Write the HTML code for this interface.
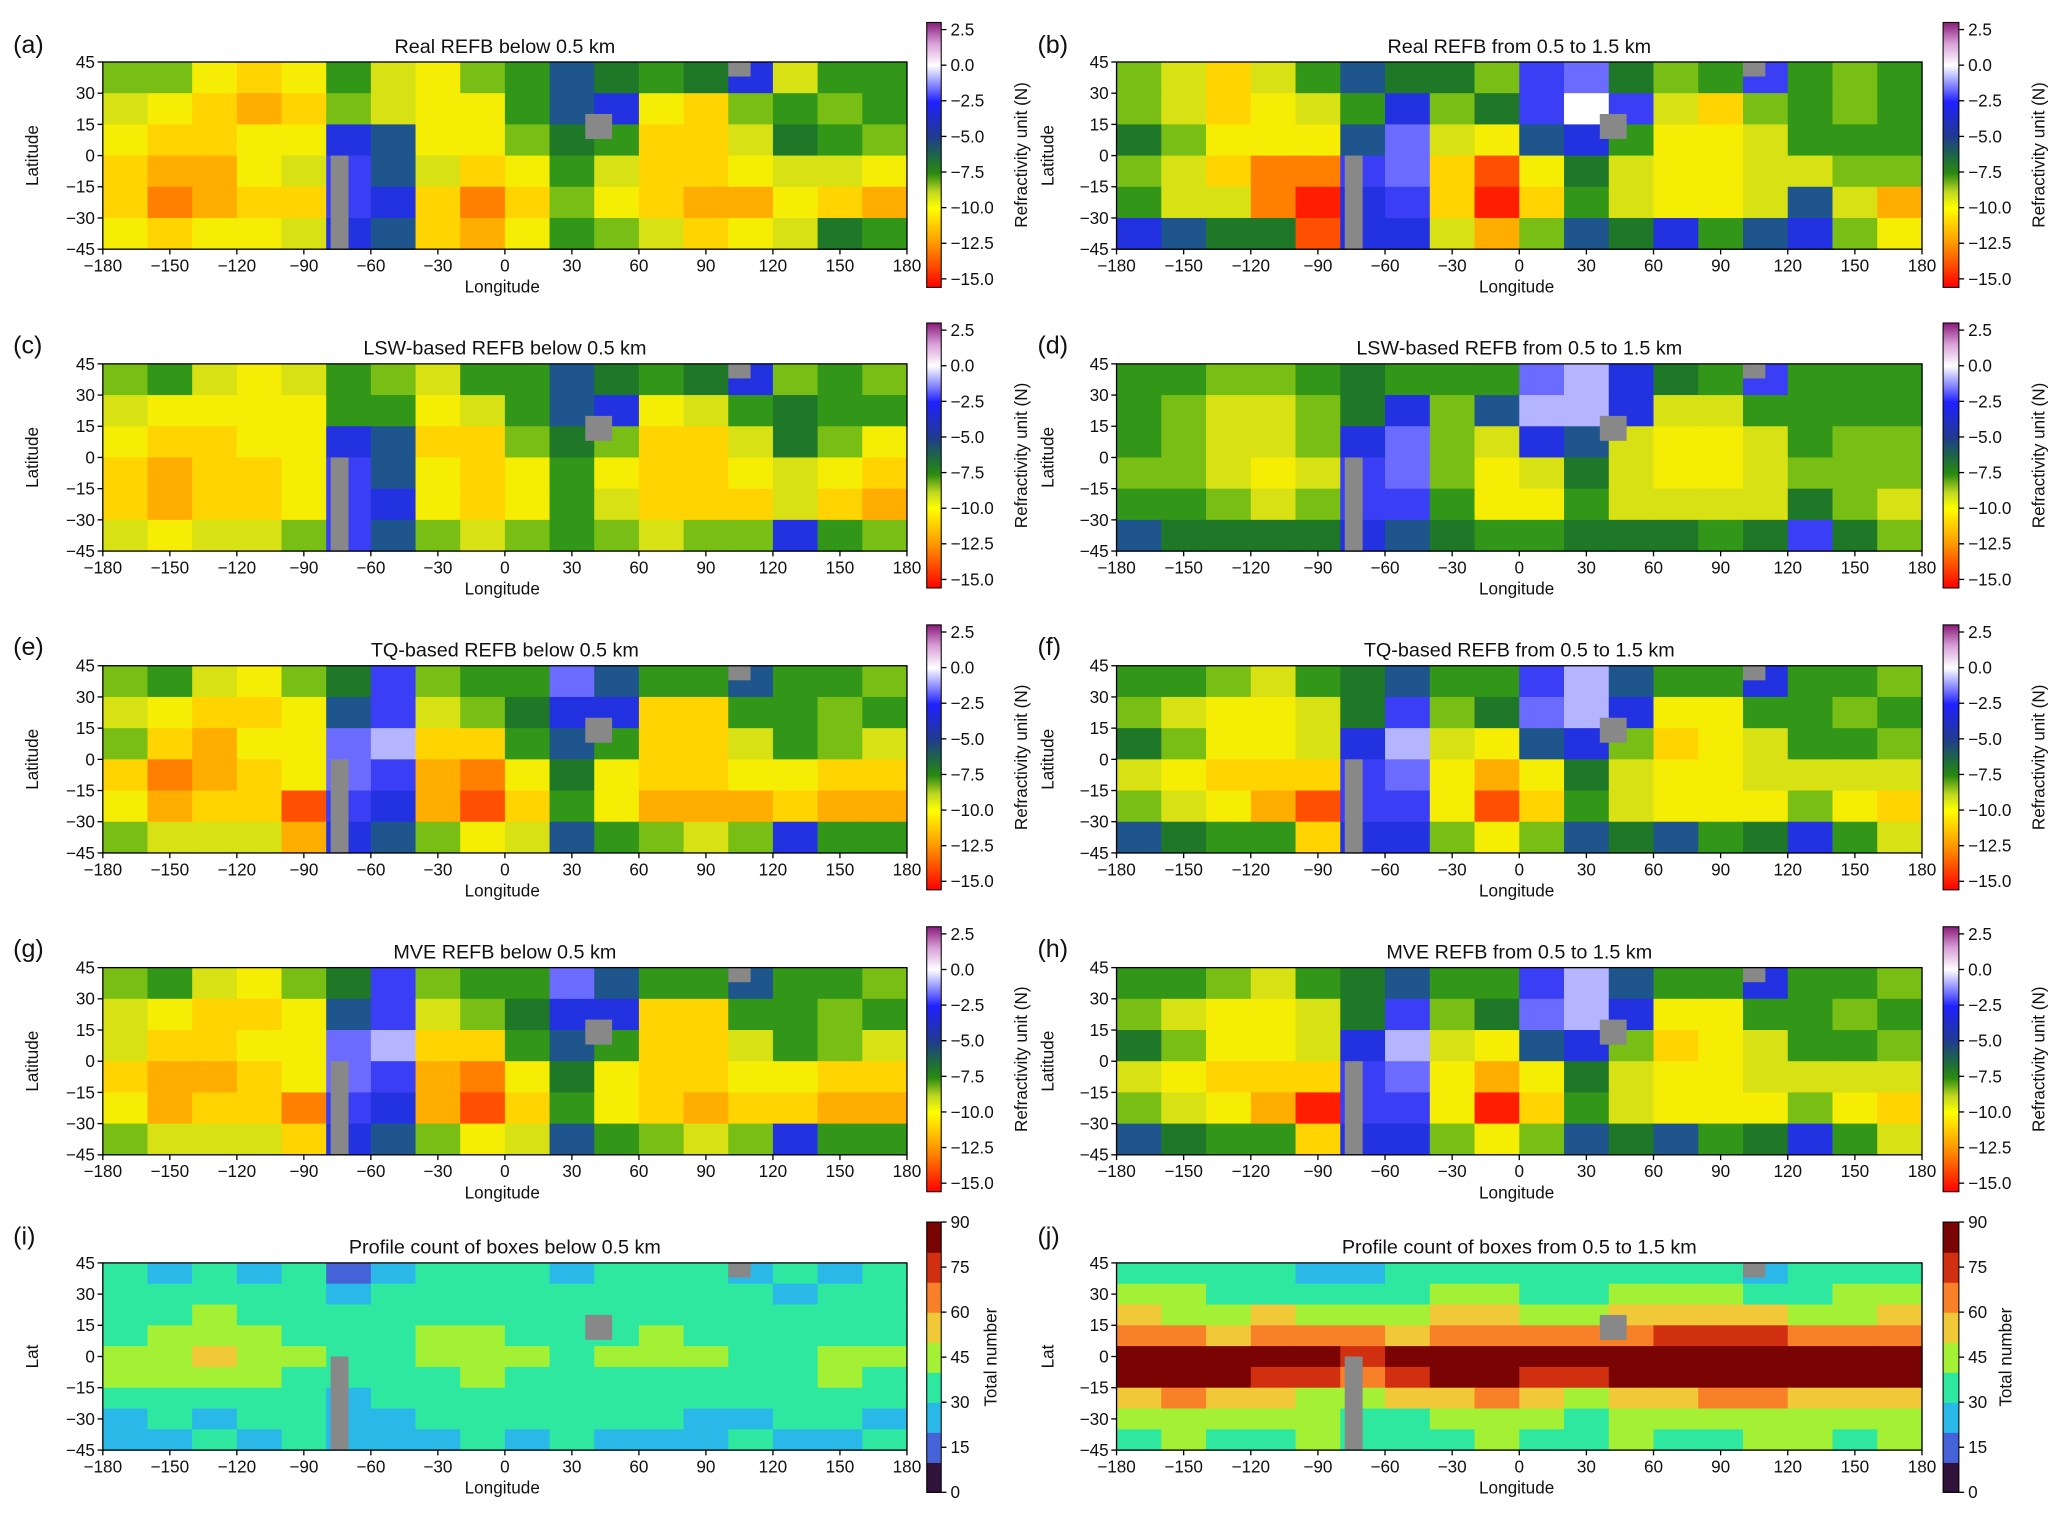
<!DOCTYPE html>
<html><head><meta charset="utf-8"><style>
html,body{margin:0;padding:0;background:#fff;}
svg text{font-family:"Liberation Sans",sans-serif;fill:#111;}
</style></head><body>
<svg id="fig" xmlns="http://www.w3.org/2000/svg" width="2067" height="1520" viewBox="0 0 1568 1153">
<defs>
<linearGradient id="refGrad" x1="0" y1="1" x2="0" y2="0">
<stop offset="0" stop-color="#ff0000"/>
<stop offset="0.167" stop-color="#ff9900"/>
<stop offset="0.30" stop-color="#ffff00"/>
<stop offset="0.36" stop-color="#c0d820"/>
<stop offset="0.43" stop-color="#2a8a10"/>
<stop offset="0.49" stop-color="#1e6a40"/>
<stop offset="0.57" stop-color="#203a90"/>
<stop offset="0.70" stop-color="#2020ff"/>
<stop offset="0.838" stop-color="#ffffff"/>
<stop offset="0.92" stop-color="#d8a0d8"/>
<stop offset="1" stop-color="#8a1a7a"/>
</linearGradient>
</defs>
</svg>
<script>
// ---- data (lon cells: 18 x 20°, lat rows top->bottom) ----
const lonTicks=[-180,-150,-120,-90,-60,-30,0,30,60,90,120,150,180];
const latTicks=[45,30,15,0,-15,-30,-45];
const refTicks=[2.5,0,-2.5,-5,-7.5,-10,-12.5,-15];
const cntTicks=[90,75,60,45,30,15,0];
const titles=["Real REFB below 0.5 km","Real REFB from 0.5 to 1.5 km","LSW-based REFB below 0.5 km","LSW-based REFB from 0.5 to 1.5 km","TQ-based REFB below 0.5 km","TQ-based REFB from 0.5 to 1.5 km","MVE REFB below 0.5 km","MVE REFB from 0.5 to 1.5 km","Profile count of boxes below 0.5 km","Profile count of boxes from 0.5 to 1.5 km"];
const labels=["(a)","(b)","(c)","(d)","(e)","(f)","(g)","(h)","(i)","(j)"];
const dataA=[
[-8,-8,-10,-11,-10,-7,-9,-10,-8,-7,-5,-6,-7,-6,-4,-9,-7,-7],
[-9,-10,-11,-12,-11,-8,-9,-10,-10,-7,-5,-4,-10,-11,-8,-7,-8,-7],
[-10,-11,-11,-10,-10,-4,-5,-10,-10,-8,-6,-7,-11,-11,-9,-6,-7,-8],
[-11,-12,-12,-10,-9,-3,-5,-9,-11,-10,-7,-9,-11,-11,-10,-9,-9,-10],
[-11,-13,-12,-11,-11,-3,-4,-11,-13,-11,-8,-10,-11,-12,-12,-10,-11,-12],
[-10,-11,-10,-10,-9,-4,-5,-11,-12,-10,-7,-8,-9,-11,-10,-9,-6,-7]];
const dataB=[
[-8,-9,-11,-9,-7,-5,-6,-6,-8,-3,-2,-6,-8,-7,-3,-7,-8,-7],
[-8,-9,-11,-10,-9,-7,-4,-8,-6,-3,0,-3,-9,-11,-8,-7,-8,-7],
[-6,-8,-10,-10,-10,-5,-2,-9,-10,-5,-4,-7,-10,-10,-9,-7,-7,-7],
[-8,-9,-11,-13,-13,-3,-2,-11,-14,-10,-6,-9,-10,-10,-9,-9,-8,-8],
[-7,-9,-9,-13,-15,-4,-3,-11,-15,-11,-7,-9,-10,-10,-9,-5,-9,-12],
[-4,-5,-6,-6,-14,-4,-4,-9,-12,-8,-5,-6,-4,-7,-5,-4,-8,-10]];
const dataC=[
[-8,-7,-9,-10,-9,-7,-8,-9,-7,-7,-5,-6,-7,-6,-4,-8,-7,-8],
[-9,-10,-10,-10,-10,-7,-7,-10,-9,-7,-5,-4,-10,-9,-7,-6,-7,-7],
[-10,-11,-11,-10,-10,-4,-5,-11,-11,-8,-6,-8,-11,-11,-9,-6,-8,-10],
[-11,-12,-11,-11,-10,-3,-5,-10,-11,-10,-7,-10,-11,-11,-10,-9,-10,-11],
[-11,-12,-11,-11,-10,-3,-4,-10,-11,-10,-7,-9,-11,-11,-11,-9,-11,-12],
[-9,-10,-9,-9,-8,-3,-5,-8,-9,-8,-7,-8,-9,-8,-8,-4,-7,-8]];
const dataD=[
[-7,-7,-8,-8,-7,-6,-7,-7,-7,-2,-1,-4,-6,-7,-3,-7,-7,-7],
[-7,-8,-9,-9,-8,-6,-4,-8,-5,-1,-1,-4,-9,-9,-7,-7,-7,-7],
[-7,-8,-9,-9,-8,-4,-2,-8,-9,-4,-5,-9,-10,-10,-9,-7,-8,-8],
[-8,-8,-9,-10,-9,-3,-2,-8,-10,-9,-6,-9,-10,-10,-9,-8,-8,-8],
[-7,-7,-8,-9,-8,-3,-3,-7,-10,-10,-7,-9,-9,-9,-9,-6,-8,-9],
[-5,-6,-6,-6,-6,-4,-5,-6,-7,-7,-6,-6,-6,-7,-6,-3,-6,-8]];
const dataE=[
[-8,-7,-9,-10,-8,-6,-3,-8,-7,-7,-2,-5,-7,-7,-5,-7,-7,-8],
[-9,-10,-11,-11,-10,-5,-3,-9,-8,-6,-4,-4,-11,-11,-7,-7,-8,-7],
[-8,-11,-12,-10,-10,-2,-1,-11,-11,-7,-5,-7,-11,-11,-9,-7,-8,-9],
[-11,-13,-12,-11,-10,-2,-3,-12,-13,-10,-6,-10,-11,-11,-10,-10,-11,-11],
[-10,-12,-11,-11,-14,-3,-4,-12,-14,-11,-7,-10,-12,-12,-12,-11,-12,-12],
[-8,-9,-9,-9,-12,-4,-5,-8,-10,-9,-5,-7,-8,-9,-8,-4,-7,-7]];
const dataF=[
[-7,-7,-8,-9,-7,-6,-5,-7,-7,-3,-1,-5,-7,-7,-4,-7,-7,-8],
[-8,-9,-10,-10,-9,-6,-3,-8,-6,-2,-1,-4,-10,-10,-7,-7,-8,-7],
[-6,-8,-10,-10,-9,-4,-1,-9,-10,-5,-4,-8,-11,-10,-9,-7,-7,-8],
[-9,-10,-11,-11,-11,-3,-2,-10,-12,-10,-6,-9,-10,-10,-9,-9,-9,-9],
[-8,-9,-10,-12,-14,-3,-3,-10,-14,-11,-7,-9,-10,-10,-10,-8,-10,-11],
[-5,-6,-7,-7,-11,-4,-4,-8,-10,-8,-5,-6,-5,-7,-6,-4,-7,-9]];
const dataG=[
[-8,-7,-9,-10,-8,-6,-3,-8,-7,-7,-2,-5,-7,-7,-5,-7,-7,-8],
[-9,-10,-11,-11,-10,-5,-3,-9,-8,-6,-4,-4,-11,-11,-7,-7,-8,-7],
[-9,-11,-11,-10,-10,-2,-1,-11,-11,-7,-5,-7,-11,-11,-9,-7,-8,-9],
[-11,-12,-12,-11,-10,-2,-3,-12,-13,-10,-6,-10,-11,-11,-10,-10,-11,-11],
[-10,-12,-11,-11,-13,-3,-4,-12,-14,-11,-7,-10,-11,-12,-11,-11,-12,-12],
[-8,-9,-9,-9,-11,-4,-5,-8,-10,-9,-5,-7,-8,-9,-8,-4,-7,-7]];
const dataH=[
[-7,-7,-8,-9,-7,-6,-5,-7,-7,-3,-1,-5,-7,-7,-4,-7,-7,-8],
[-8,-9,-10,-10,-9,-6,-3,-8,-6,-2,-1,-4,-10,-10,-7,-7,-8,-7],
[-6,-8,-10,-10,-9,-4,-1,-9,-10,-5,-4,-8,-11,-10,-9,-7,-7,-8],
[-9,-10,-11,-11,-11,-3,-2,-10,-12,-10,-6,-9,-10,-10,-9,-9,-9,-9],
[-8,-9,-10,-12,-15,-3,-3,-10,-15,-11,-7,-9,-10,-10,-10,-8,-10,-11],
[-5,-6,-7,-7,-11,-4,-4,-8,-10,-8,-5,-6,-5,-7,-6,-4,-7,-9]];
const dataI=[
[35,25,35,25,35,15,25,35,35,35,25,35,35,35,25,35,25,35],
[35,35,35,35,35,25,35,35,35,35,35,35,35,35,35,25,35,35],
[35,35,45,35,35,35,35,35,35,35,35,35,35,35,35,35,35,35],
[35,45,45,45,35,35,35,45,45,35,35,35,45,35,35,35,35,35],
[45,45,55,45,45,35,35,45,45,45,35,45,45,45,35,35,45,45],
[45,45,45,45,35,35,35,35,45,35,35,35,35,35,35,35,45,35],
[35,35,35,35,35,25,35,35,35,35,35,35,35,35,35,35,35,35],
[25,35,25,35,35,25,25,35,35,35,35,35,35,25,25,35,35,25],
[25,25,35,25,35,25,25,25,35,25,35,25,25,25,35,25,25,35]];
const dataJ=[
[35,35,35,35,25,25,35,35,35,35,35,35,35,35,25,35,35,35],
[45,45,35,35,35,35,35,45,45,35,35,45,45,45,35,35,45,45],
[55,45,45,55,45,45,45,55,55,45,45,55,55,55,55,45,45,55],
[65,65,55,65,65,65,55,65,65,65,65,65,75,75,75,65,65,65],
[85,85,85,85,85,75,85,85,85,85,85,85,85,85,85,85,85,85],
[85,85,85,75,75,65,75,85,85,75,75,85,85,85,85,85,85,85],
[55,65,55,55,45,45,55,55,65,55,45,55,55,65,65,55,55,55],
[45,45,45,45,45,35,35,45,45,45,35,45,45,45,45,45,45,45],
[35,45,35,35,45,35,35,35,45,35,35,45,35,35,45,45,35,45]];
const allData=[dataA,dataB,dataC,dataD,dataE,dataF,dataG,dataH,dataI,dataJ];

// ---- colormaps ----
const refStops=[[-15.6,[255,0,0]],[-12.5,[255,153,0]],[-10.3,[255,240,0]],[-9,[215,225,20]],[-8,[120,190,20]],[-7,[50,150,25]],[-6,[30,120,40]],[-5,[30,85,140]],[-4,[35,50,225]],[-2.5,[70,70,255]],[0,[255,255,255]],[1.5,[216,160,216]],[3,[138,26,122]]];
function refColor(v){
  if(v<=refStops[0][0]) return 'rgb('+refStops[0][1]+')';
  for(let i=1;i<refStops.length;i++){
    if(v<=refStops[i][0]){const a=refStops[i-1],b=refStops[i];const t=(v-a[0])/(b[0]-a[0]);
      return 'rgb('+a[1].map((c,k)=>Math.round(c+(b[1][k]-c)*t)).join(',')+')';}
  }
  return 'rgb('+refStops[refStops.length-1][1]+')';
}
const cntColors=['#30123b','#4662d8','#2ab8e8','#2ee8a0','#a4f034','#f0c838','#f88028','#d03010','#7a0403'];
function cntColor(v){return cntColors[Math.max(0,Math.min(8,Math.floor(v/10)))];}

// ---- layout ----
const svg=document.getElementById('fig');
const NS='http://www.w3.org/2000/svg';
function mk(tag,attrs,parent){const e=document.createElementNS(NS,tag);for(const k in attrs)e.setAttribute(k,attrs[k]);(parent||svg).appendChild(e);return e;}
const colX=[{mx:78,mw:610,cx:703,cw:11,lab:10,ylab:25,cbl:775,cbl2:752},{mx:847,mw:611,cx:1474,cw:12,lab:787,ylab:795,cbl:1547,cbl2:1522}];
const rowY=[47,276,505,734,958];
const cbTop=[17,245,474,703,927];
const MH=142;

for(let p=0;p<10;p++){
  const c=colX[p%2], r=Math.floor(p/2), my=rowY[r], isCnt=p>=8;
  const g=mk('g',{});
  
  
  const xS=lon=>c.mx+(lon+180)/360*c.mw;
  const yS=lat=>my+(45-lat)/90*MH;
  const d=allData[p], nr=d.length, nc=d[0].length;
  const dLat=90/nr, dLon=360/nc;
  for(let i=0;i<nr;i++)for(let j=0;j<nc;j++){
    const lon0=-180+j*dLon, lat0=45-i*dLat;
    const x0=xS(lon0),x1=xS(lon0+dLon),y0=yS(lat0),y1=yS(lat0-dLat);
    const cell=mk('rect',{x:x0,y:y0,width:x1-x0+0.5,height:y1-y0+0.5,fill:isCnt?cntColor(d[i][j]):refColor(d[i][j])},g);
    
    
  }
  // gray masked boxes
  [[-78,-70,0,-45],[36,48,20,8],[100,110,45,38]].forEach(b=>{
    const m=mk('rect',{x:xS(b[0]),y:yS(b[2]),width:xS(b[1])-xS(b[0]),height:yS(b[3])-yS(b[2]),fill:'#888'},g);
    
    
  });
  const fr=mk('rect',{x:c.mx,y:my,width:c.mw,height:MH,fill:'none',stroke:'#000','stroke-width':1},g);
  
  
  // x ticks
  lonTicks.forEach(t=>{const x=xS(t);
    mk('line',{x1:x,x2:x,y1:my+MH,y2:my+MH+4,stroke:'#000'},g);
    const tx=mk('text',{x:x,y:my+MH+17,'font-size':13,'text-anchor':'middle'},g);tx.textContent=(t<0?'\u2212'+(-t):t);
    
    
  });
  latTicks.forEach(t=>{const y=yS(t);
    mk('line',{x1:c.mx-4,x2:c.mx,y1:y,y2:y,stroke:'#000'},g);
    const tx=mk('text',{x:c.mx-6,y:y+4.5,'font-size':13,'text-anchor':'end'},g);tx.textContent=(t<0?'\u2212'+(-t):t);
    
    
  });
  const xt=mk('text',{x:c.mx+c.mw/2-2,y:my+MH+33,'font-size':13,'text-anchor':'middle'},g);xt.textContent='Longitude';
  
  
  const yt=mk('text',{x:0,y:0,'font-size':13,'text-anchor':'middle',transform:'translate('+(c.ylab+4)+','+(my+MH/2)+') rotate(-90)'},g);yt.textContent=isCnt?'Lat':'Latitude';
  
  
  const tt=mk('text',{x:c.mx+c.mw/2,y:my-7,'font-size':15,'text-anchor':'middle'},g);tt.textContent=titles[p];
  
  
  const lb=mk('text',{x:c.lab,y:cbTop[r]+(isCnt?17:23),'font-size':19},g);lb.textContent=labels[p];
  
  
  // colorbar
  const cb=mk('g',{},g);
  
  
  const ct=cbTop[r];
  if(!isCnt){
    const H=201;
    mk('rect',{x:c.cx,y:ct,width:c.cw,height:H,fill:'url(#refGrad)',stroke:'#000','stroke-width':0.8},cb);
    refTicks.forEach(t=>{const y=ct+(3-t)/18.6*H;
      mk('line',{x1:c.cx+c.cw,x2:c.cx+c.cw+4,y1:y,y2:y,stroke:'#000'},cb);
      const tx=mk('text',{x:c.cx+c.cw+7,y:y+4.5,'font-size':13},cb);tx.textContent=(t<0?'\u2212'+(-t).toFixed(1):t.toFixed(1));
      
      
    });
    const cl=mk('text',{x:0,y:0,'font-size':13,'text-anchor':'middle',transform:'translate('+(c.cbl+4)+','+(ct+H/2)+') rotate(-90)'},cb);cl.textContent='Refractivity unit (N)';
    
    
  } else {
    const H=205;
    for(let k=0;k<9;k++){mk('rect',{x:c.cx,y:ct+H-(k+1)*H/9,width:c.cw,height:H/9+0.5,fill:cntColors[k]},cb);}
    mk('rect',{x:c.cx,y:ct,width:c.cw,height:H,fill:'none',stroke:'#000','stroke-width':0.8},cb);
    cntTicks.forEach(t=>{const y=ct+(90-t)/90*H;
      mk('line',{x1:c.cx+c.cw,x2:c.cx+c.cw+4,y1:y,y2:y,stroke:'#000'},cb);
      const tx=mk('text',{x:c.cx+c.cw+7,y:y+4.5,'font-size':13},cb);tx.textContent=t;
      
      
    });
    const cl=mk('text',{x:0,y:0,'font-size':13,'text-anchor':'middle',transform:'translate('+(c.cbl2+4)+','+(ct+H/2)+') rotate(-90)'},cb);cl.textContent='Total number';
    
    
  }
}
</script>
</body></html>
